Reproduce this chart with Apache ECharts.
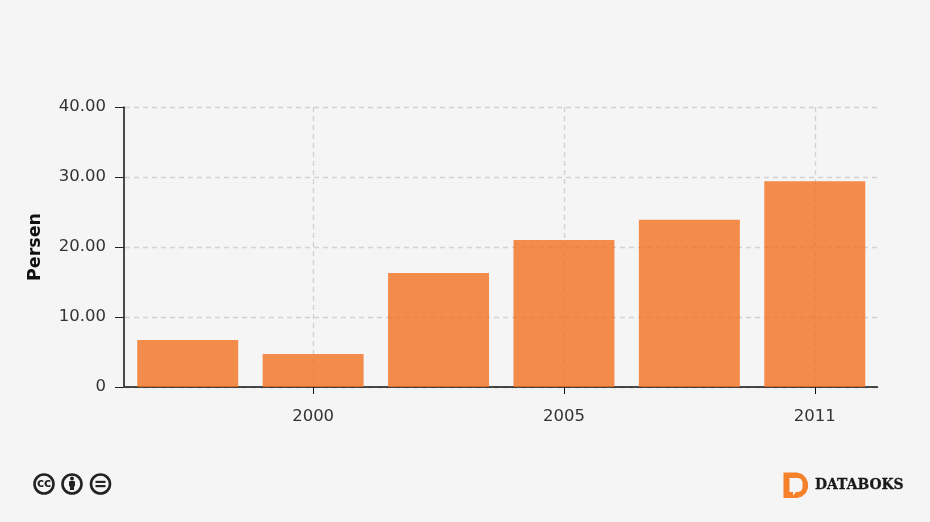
<!DOCTYPE html>
<html><head><meta charset="utf-8">
<style>html,body{margin:0;padding:0;background:#f5f5f5}#c{width:930px;height:522px}</style>
<script src="https://cdn.jsdelivr.net/npm/echarts@6/dist/echarts.min.js"></script>
</head><body><div id="c"></div>
<script>
const categories = ['', '2000', '', '2005', '', '2011'];
const values = [6.7, 4.7, 16.3, 21.0, 23.9, 29.4];
const yTicks = [0, 10, 20, 30, 40];
const yTitle = 'Persen';
const brand = 'DATABOKS';
const showIdx = (i) => categories[i] !== '';
const ff = '"DejaVu Sans", Verdana, sans-serif';
const chart = echarts.init(document.getElementById('c'), null, {renderer:'canvas'});
function ring(cx){return {type:'circle',shape:{cx:cx,cy:484,r:9.5},style:{fill:'#f5f5f5',stroke:'#222',lineWidth:2.6}};}
chart.setOption({
  animation:false,
  backgroundColor:'#f5f5f5',
  grid:{left:125,right:52.5,top:107,bottom:135,containLabel:false},
  xAxis:{
    type:'category',data:categories,boundaryGap:true,
    axisLine:{show:true,lineStyle:{color:'#111',width:1.5}},
    axisTick:{show:true,alignWithLabel:true,length:7,interval:(i)=>showIdx(i),lineStyle:{color:'#111',width:1}},
    axisLabel:{show:true,interval:0,margin:21,color:'#333',fontFamily:ff,fontSize:16.5},
    splitLine:{show:true,interval:(i)=>showIdx(i),alignWithLabel:true,lineStyle:{color:'#d2d2d2',type:[5,4],width:1.4}}
  },
  yAxis:{
    type:'value',min:yTicks[0],max:yTicks[yTicks.length-1],interval:10,offset:1,
    name:yTitle,nameLocation:'middle',nameGap:80,nameRotate:90,
    nameTextStyle:{fontFamily:ff,fontSize:17.5,fontWeight:'bold',color:'#111'},
    axisLine:{show:true,lineStyle:{color:'#111',width:1.5}},
    axisTick:{show:true,length:9,lineStyle:{color:'#222',width:1}},
    axisLabel:{margin:18,color:'#333',fontFamily:ff,fontSize:16.5,padding:[2,0,0,0],formatter:(v)=>v===0?'0':v.toFixed(2)},
    splitLine:{show:true,lineStyle:{color:'#d2d2d2',type:[5,4],width:1.4}}
  },
  series:[{type:'bar',data:values,barCategoryGap:'19.5%',z:5,
    itemStyle:{color:'#f37021',opacity:0.8}}],
  graphic:[
    ring(44),ring(72),ring(100.5),
    {type:'text',style:{x:44,y:484,text:'cc',align:'center',verticalAlign:'middle',font:'bold 12px "DejaVu Sans"',fill:'#222'}},
    {type:'circle',shape:{cx:72,cy:478.5,r:2},style:{fill:'#222'}},
    {type:'rect',shape:{x:69,y:481,width:6,height:5.5,r:1},style:{fill:'#222'}},
    {type:'rect',shape:{x:70,y:485,width:4,height:5},style:{fill:'#222'}},
    {type:'rect',shape:{x:95.5,y:480.8,width:10,height:2.2},style:{fill:'#222'}},
    {type:'rect',shape:{x:95.5,y:485,width:10,height:2.2},style:{fill:'#222'}},
    {type:'polygon',shape:{points:[[783.5,472.5],[797,472.5],[802,474],[806,478],[808,483],[808,488],[806,493],[802,496.5],[797,498],[783.5,498]]},style:{fill:'#f5812a'}},
    {type:'polygon',shape:{points:[[789.5,478],[798,478],[801,479],[802.5,482],[802.5,488],[801,491],[798,492],[796,492],[793,495.5],[793,492],[789.5,492]]},style:{fill:'#f5f5f5'}},
    {type:'text',style:{x:815,y:485.5,text:brand,align:'left',verticalAlign:'middle',font:'bold 13.9px "DejaVu Serif"',fill:'#1a1a1a',stroke:'#1a1a1a',lineWidth:0.3}}
  ]
});
</script></body></html>
